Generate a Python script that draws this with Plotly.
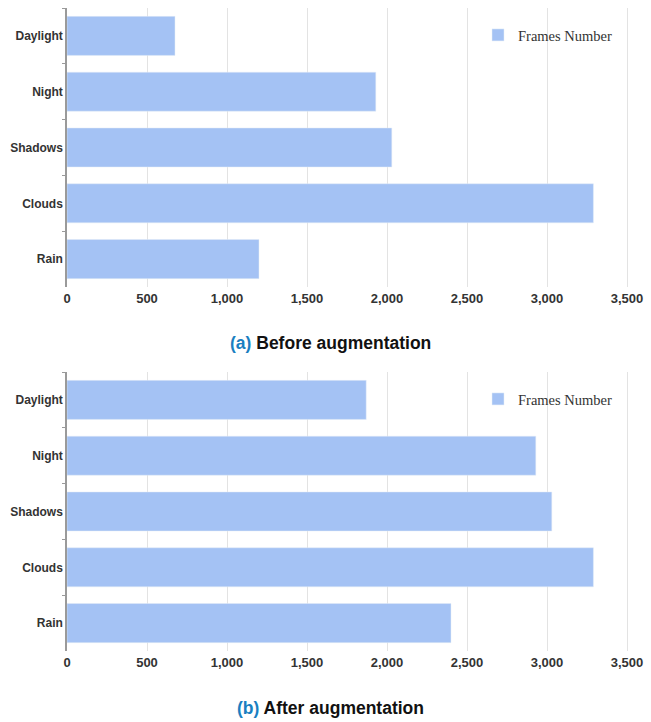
import plotly.graph_objects as go

categories = ["Daylight", "Night", "Shadows", "Clouds", "Rain"]
before_values = [675, 1930, 2030, 3290, 1200]
after_values = [1870, 2930, 3030, 3290, 2400]
x_tickvals = [0, 500, 1000, 1500, 2000, 2500, 3000, 3500]
x_ticktext = ["0", "500", "1,000", "1,500", "2,000", "2,500", "3,000", "3,500"]
series_name = "Frames Number"
captions = ["Before augmentation", "After augmentation"]
caption_tags = ["(a)", "(b)"]

W, H = 651, 722
bar_color = "#a4c2f4"
ytick_font = dict(family="Liberation Sans, Arial, sans-serif", size=12, color="#333333", weight="bold")
xtick_font = dict(family="Liberation Sans, Arial, sans-serif", size=13, color="#333333", weight="bold")
legend_font = dict(family="Liberation Serif, Times New Roman, serif", size=14.5, color="#333333")

fig = go.Figure()

fig.add_trace(go.Bar(y=categories, x=before_values, orientation="h", marker_color=bar_color,
                     name=series_name, xaxis="x", yaxis="y", legend="legend", showlegend=True))
fig.add_trace(go.Bar(y=categories, x=after_values, orientation="h", marker_color=bar_color,
                     name=series_name, xaxis="x2", yaxis="y2", legend="legend2", showlegend=True))

def px_y(p):
    return 1 - p / H

xax = dict(range=[0, 3600], tickvals=x_tickvals, ticktext=x_ticktext, showgrid=True,
           gridcolor="#e3e3e3", gridwidth=1, zeroline=False, showline=False,
           tickfont=xtick_font, ticks="", ticklabelstandoff=2, automargin=False,
           domain=[67 / W, 643 / W], fixedrange=True)
yax = dict(autorange="reversed", showline=True, linecolor="#9a9a9a", linewidth=1.5,
           ticks="outside", tickson="boundaries", ticklen=3, tickcolor="#9a9a9a",
           tickfont=ytick_font, showgrid=False, fixedrange=True, automargin=False)

fig.update_layout(
    width=W, height=H,
    margin=dict(l=0, r=0, t=0, b=0),
    paper_bgcolor="white", plot_bgcolor="white",
    bargap=0.3,
    showlegend=True,
    xaxis=dict(**xax, anchor="y"),
    yaxis=dict(**yax, domain=[px_y(287), px_y(8)], anchor="x"),
    xaxis2=dict(**xax, anchor="y2"),
    yaxis2=dict(**yax, domain=[px_y(651), px_y(372)], anchor="x2"),
    legend=dict(visible=True, x=478 / W, y=px_y(19), xanchor="left", yanchor="top",
                font=legend_font, bgcolor="rgba(0,0,0,0)", itemwidth=30),
    legend2=dict(visible=True, x=478 / W, y=px_y(383), xanchor="left", yanchor="top",
                 font=legend_font, bgcolor="rgba(0,0,0,0)", itemwidth=30),
)

cap_pos = [(331, 343), (331, 708)]
for (cx, cy), tag, cap in zip(cap_pos, caption_tags, captions):
    fig.add_annotation(x=cx / W, y=px_y(cy), xref="paper", yref="paper", showarrow=False,
                       text=f"<b><span style='color:#1a7fc1'>{tag}</span> {cap}</b>",
                       font=dict(family="Liberation Sans, Arial, sans-serif", size=17.5, color="#111111"),
                       xanchor="center", yanchor="middle")

fig.write_html("out.html")
